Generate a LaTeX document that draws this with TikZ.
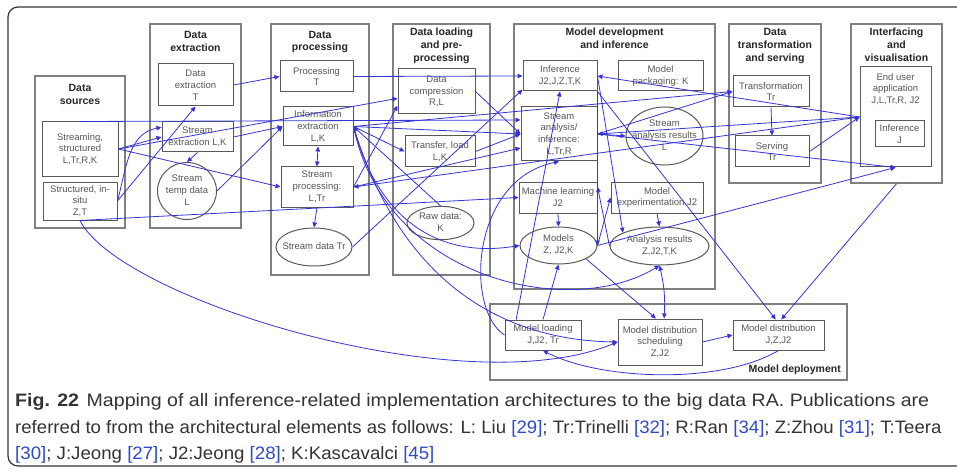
\documentclass[tikz,border=0pt]{standalone}
\usepackage{fontspec}
\setmainfont{Liberation Sans}
\newfontfamily\capfont{Liberation Sans}
\usetikzlibrary{arrows.meta,shapes,positioning}
\definecolor{linkblue}{RGB}{52,52,214}
\definecolor{boxgray}{RGB}{128,128,128}
\definecolor{txtgray}{RGB}{85,85,85}
\definecolor{refblue}{RGB}{45,75,200}
\newcommand{\ellbox}[1]{\makebox[0pt]{\begin{tabular}{@{}c@{}}#1\end{tabular}}}
\newcommand{\refno}[1]{\textcolor{refblue}{[#1]}}
\tikzstyle{frame}=[draw=black!80,line width=1.2pt,rounded corners=10pt]
\tikzstyle{group}=[draw=boxgray,line width=1.4pt,inner sep=0pt]
\tikzstyle{title}=[font=\fontsize{10.5}{12.8}\selectfont\bfseries,text=black!85,align=center,inner sep=0pt]
\tikzstyle{elem}=[draw=black!65,line width=1pt,font=\fontsize{9.5}{11.8}\selectfont,text=txtgray,align=center,inner sep=0pt]
\tikzstyle{store}=[elem,ellipse]
\tikzstyle{link}=[draw=linkblue,line width=0.8pt,-{Triangle[length=5pt,width=4.5pt]}]
\tikzstyle{link2}=[link,{Triangle[length=5pt,width=4.5pt]}-{Triangle[length=5pt,width=4.5pt]}]
\tikzstyle{capline}=[anchor=base west,inner sep=0pt,font=\capfont\fontsize{18}{21}\selectfont,text=black!80]

\begin{document}
\begin{tikzpicture}[x=1pt,y=-1pt]
    \useasboundingbox (0,0) rectangle (957,473);
    \draw[frame] (975,7) -- (8,7) -- (8,466) -- (975,466);
    % First we draw the groups of the RA
    \node[group, minimum width=90pt, minimum height=152pt] (gsrc) at (80,152) {};
    \node[group, minimum width=91pt, minimum height=204pt] (gext) at (195.5,126) {};
    \node[group, minimum width=98pt, minimum height=251pt] (gproc) at (320,149.5) {};
    \node[group, minimum width=97pt, minimum height=251pt] (gload) at (441.5,149.5) {};
    \node[group, minimum width=201pt, minimum height=265pt] (gmod) at (614.5,156.5) {};
    \node[group, minimum width=92pt, minimum height=159pt] (gtrans) at (775,103.5) {};
    \node[group, minimum width=91pt, minimum height=159pt] (gvis) at (896.5,103.5) {};
    \node[group, minimum width=357pt, minimum height=76pt] (gdep) at (668.5,342) {};
    \node[title] (tsrc) at (80,94.5) {Data\\sources};
    \node[title] (text) at (195.5,41.5) {Data\\extraction};
    \node[title] (tproc) at (320,42) {Data\\processing};
    \node[title] (tload) at (441.5,46) {Data loading\\and pre-\\processing};
    \node[title] (tmod) at (614.5,38.5) {Model development\\and inference};
    \node[title] (ttrans) at (775,46) {Data\\transformation\\and serving};
    \node[title] (tvis) at (896.5,44.5) {Interfacing\\and\\visualisation};
    \node[title, anchor=east] (tdep) at (841,370) {Model deployment};
    % Then the elements in each group
    \node[elem, minimum width=76pt, minimum height=54pt] (strm) at (80,149) {Streaming,\\structured\\L,Tr,R,K};
    \node[elem, minimum width=74pt, minimum height=38pt] (insitu) at (80,201) {Structured, in-\\situ\\Z,T};
    \node[elem, minimum width=75pt, minimum height=42pt] (dext) at (195.5,85) {Data\\extraction\\T};
    \node[elem, minimum width=71pt, minimum height=30pt] (sext) at (197.5,137) {Stream\\extraction L,K};
    \node[store, minimum width=59pt, minimum height=57pt] (stemp) at (187,191) {\ellbox{Stream\\temp data\\L}};
    \node[elem, minimum width=73pt, minimum height=31pt] (proc) at (316.5,76.5) {Processing\\T};
    \node[elem, minimum width=70pt, minimum height=39pt] (iext) at (318,126.5) {Information\\extraction\\L,K};
    \node[elem, minimum width=72pt, minimum height=40pt] (sproc) at (317,187) {Stream\\processing:\\L,Tr};
    \node[store, minimum width=76pt, minimum height=38pt] (sdata) at (314,247) {\ellbox{Stream data Tr}};
    \node[elem, minimum width=77pt, minimum height=45pt] (dcomp) at (436.5,91.5) {Data\\compression\\R,L};
    \node[elem, minimum width=70pt, minimum height=31pt] (tload) at (440,151.5) {Transfer, load\\L,K};
    \node[store, minimum width=67pt, minimum height=30pt] (raw) at (440.5,223) {\ellbox{Raw data:\\K}};
    \node[elem, minimum width=74pt, minimum height=30pt] (inf) at (560,76) {Inference\\J2,J,Z,T,K};
    \node[elem, minimum width=85pt, minimum height=30pt] (mpack) at (660.5,76) {Model\\packaging: K};
    \node[elem, minimum width=76pt, minimum height=54pt] (sana) at (559,134) {Stream\\analysis/\\inference:\\L,Tr,R};
    \node[store, minimum width=77pt, minimum height=58pt] (sares) at (664.5,136) {\ellbox{Stream\\analysis results\\L}};
    \node[elem, minimum width=78pt, minimum height=31pt] (ml) at (558,197.5) {Machine learning\\J2};
    \node[elem, minimum width=92pt, minimum height=31pt] (mexp) at (657,197.5) {Model\\experimentation J2};
    \node[store, minimum width=77pt, minimum height=37pt] (models) at (558.5,245.5) {\ellbox{Models\\Z, J2,K}};
    \node[store, minimum width=99pt, minimum height=38pt] (ares) at (659.5,246) {\ellbox{Analysis results\\Z,J2,T,K}};
    \node[elem, minimum width=76pt, minimum height=31pt] (trans) at (771,91.5) {Transformation\\Tr};
    \node[elem, minimum width=74pt, minimum height=31pt] (serv) at (772,151.5) {Serving\\Tr};
    \node[elem, minimum width=71pt, minimum height=100pt] (eua) at (895.5,117) {};
    \node[elem, draw=none] (euat) at (895.5,89) {End user\\application\\J,L,Tr,R, J2};
    \node[elem, minimum width=49pt, minimum height=26pt] (vinf) at (899.5,134) {Inference\\J};
    \node[elem, minimum width=76pt, minimum height=30pt] (mload) at (543,335) {Model loading\\J,J2, Tr};
    \node[elem, minimum width=84pt, minimum height=46pt] (mdsched) at (660,342) {Model distribution\\scheduling\\Z,J2};
    \node[elem, minimum width=91pt, minimum height=30pt] (mdist) at (778.5,335) {Model distribution\\J,Z,J2};
    % Connect elements with links
    \foreach \source/\dest in {strm.east/sext.west, strm.east/dcomp.190, strm.east/sproc.west,
        strm.north/sana.160, insitu.east/dext.south, insitu.south/ml.west,
        dext.east/proc.west, sext.east/iext.west, stemp.east/iext.west, sext.south/stemp.north,
        sproc.south/sdata.north, proc.east/inf.west, sproc.east/dcomp.200, iext.east/tload.west,
        sdata.east/inf.200, eua.west/sproc.east, dcomp.east/sana.west, tload.east/sana.west,
        iext.east/sana.west, raw.north/iext.east, iext.east/trans.west, sproc.east/sana.200,
        mload.north/models.south, mload.150/inf.south, models.south east/mdsched.100,
        mdsched.east/mdist.west, inf.south east/mdist.100, gvis.south/mdist.80,
        ml.south/models.north, mexp.south/ares.north, inf.south east/models.east,
        models.east/mexp.west, ares.west/ml.15, inf.east/ares.160, eua.west/inf.east,
        eua.west/sana.east, sana.east/sares.west, sana.east/eua.south, models.east/eua.south,
        serv.east/eua.west, trans.south/serv.north, sana.east/trans.west}
        \path[link] (\source) -- (\dest);
    \path[link] (insitu.east) to[out=75,in=190] (sext.165);
    \path[link2] (iext.south) -- (sproc.north);
    \path[link] (insitu.south) .. controls (120,300) and (465,405) .. (mdsched.west);
    \path[link] (iext.east) .. controls (375,210) and (430,260) .. (models.west);
    \path[link] (iext.east) .. controls (385,280) and (570,320) .. (ares.south);
    \path[link] (iext.east) .. controls (400,280) and (500,340) .. (mdsched.west);
    \path[link] (mload.west) .. controls (465,310) and (470,180) .. (sana.south);
    \path[link2] (ares.south) to[bend left=8] (mdsched.80);
    \path[link] (mdist.south) .. controls (720,385) and (600,380) .. (mload.south);
    % caption
    \node[capline] (cap1) at (15,406) {\scalebox{1.088}[1]{\textbf{Fig. 22}\hspace{7pt}Mapping of all inference-related implementation architectures to the big data RA. Publications are}};
    \node[capline] (cap2) at (15,433) {\scalebox{1.034}[1]{referred to from the architectural elements as follows: L: Liu \refno{29}; Tr:Trinelli \refno{32}; R:Ran \refno{34}; Z:Zhou \refno{31}; T:Teera}};
    \node[capline] (cap3) at (15,459) {\scalebox{1.037}[1]{\refno{30}; J:Jeong \refno{27}; J2:Jeong \refno{28}; K:Kascavalci \refno{45}}};
\end{tikzpicture}
\end{document}
